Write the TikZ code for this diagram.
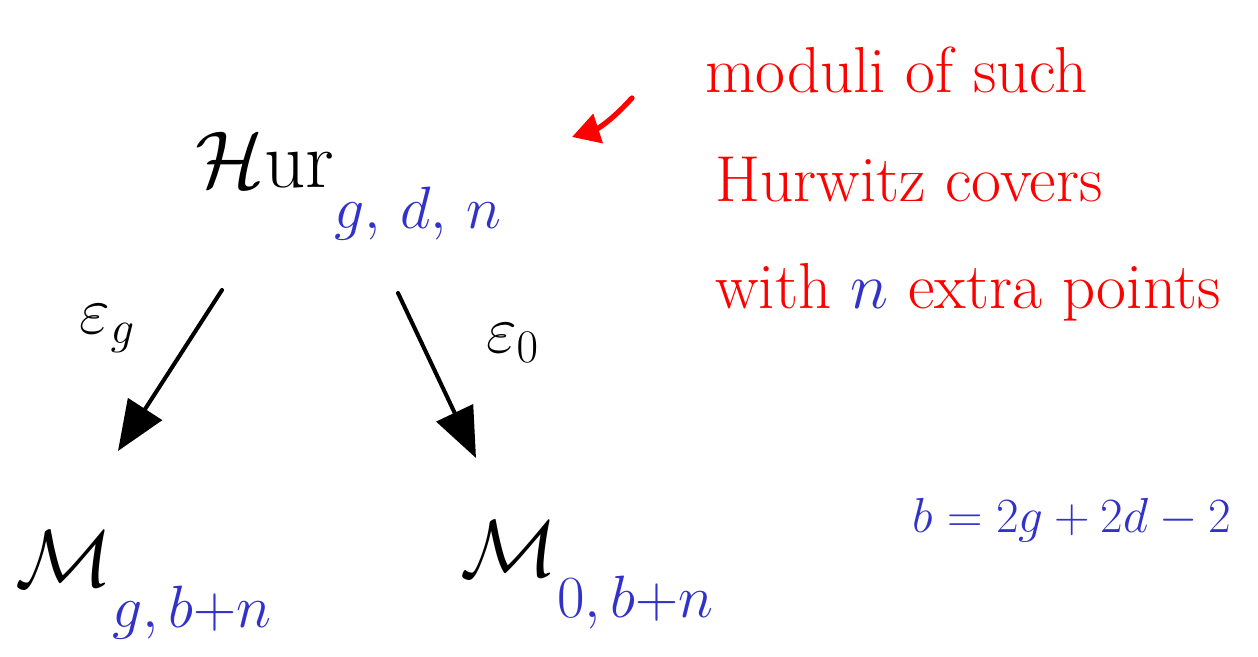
\RequirePackage{fix-cm}
\documentclass[tikz,border=0pt]{standalone}
\usepackage{amsmath}
\usetikzlibrary{arrows.meta, positioning, calc}
\definecolor{inkred}{RGB}{255,0,0}
\definecolor{inkblue}{RGB}{50,50,200}
\tikzset{
  space/.style   = {inner sep=0pt, anchor=west, font=\fontsize{46}{50}\selectfont},
  mapname/.style = {inner sep=0pt, font=\fontsize{38}{42}\selectfont},
  note/.style    = {inner sep=0pt, anchor=west, text=inkred, font=\fontsize{37}{40}\selectfont},
  formula/.style = {inner sep=0pt, text=inkblue, font=\fontsize{28}{30}\selectfont},
  map/.style     = {-{Triangle[length=1.0cm,width=0.8cm]}, line width=2.3pt, line cap=round},
  pointer/.style = {-{Triangle[length=0.55cm,width=0.6cm]}, inkred, line width=3pt, line cap=round},
}
\newcommand{\ix}[1]{\raisebox{-0.5em}{\fontsize{34}{38}\selectfont\textcolor{inkblue}{$#1$}}}

\begin{document}
\begin{tikzpicture}
  \useasboundingbox (0,0) rectangle (25.16,13.12);
  % the three spaces
  \node[space] (Hur) at (3.9,9.4) {$\mathcal{H}$ur\ix{g,\,d,\,n}};
  \node[space] (Mg)  at (0.3,1.42) {$\mathcal{M}$\ix{g,b{+}n}};
  \node[space] (M0)  at (9.2,1.62) {$\mathcal{M}$\ix{0,b{+}n}};
  % forgetful maps
  \draw[map] ([xshift=0.54cm,yshift=-1.0cm]Hur.south west) -- ([xshift=2.06cm,yshift=1.6cm]Mg.north west);
  \draw[map] ([xshift=4.06cm,yshift=-1.06cm]Hur.south west) -- ([xshift=0.32cm,yshift=1.26cm]M0.north west);
  \node[mapname] (eg) at (2.15,6.55) {$\varepsilon_g$};
  \node[mapname] (e0) at (10.25,6.25) {$\varepsilon_0$};
  % remark
  \node[note] (l1) at (14.1,11.72) {moduli of such};
  \node[note] (l2) at (14.3,9.52) {Hurwitz covers};
  \node[note] (l3) at (14.3,7.28) {with \textcolor{inkblue}{$n$} extra points};
  \coordinate (from) at (12.64,11.16);
  \coordinate (to) at (11.44,10.38);
  \draw[pointer] (from) to[bend left=15] (to);
  \node[formula] (bdef) at (21.44,2.72) {$b = 2g + 2d - 2$};
\end{tikzpicture}
\end{document}
